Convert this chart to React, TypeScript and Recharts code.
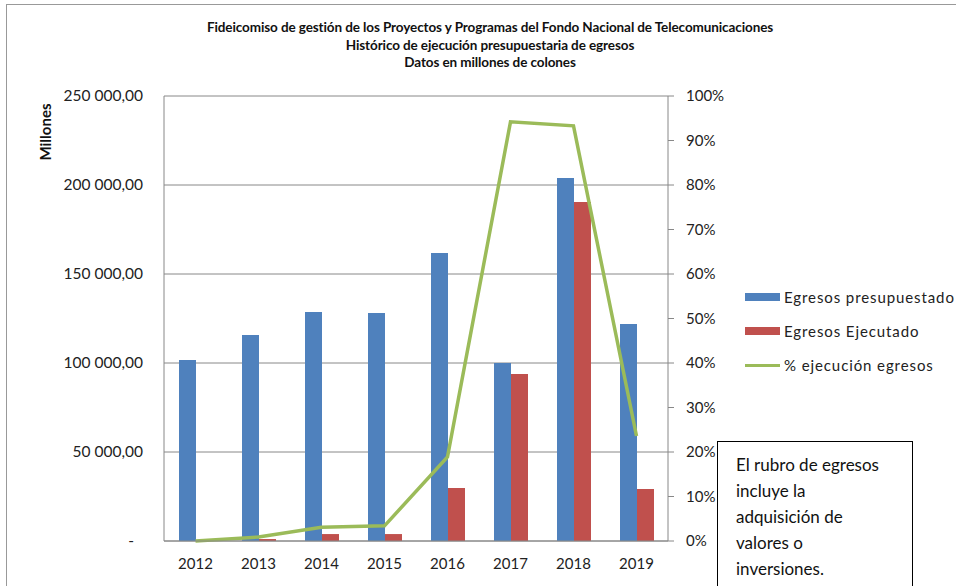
import { ComposedChart, Bar, Line, XAxis, YAxis, CartesianGrid, Legend } from 'recharts'

const years = ['2012', '2013', '2014', '2015', '2016', '2017', '2018', '2019']
const presupuestado = [101700, 115700, 128700, 128100, 161800, 100000, 203900, 121900]
const ejecutado = [0, 1100, 3900, 3900, 29800, 93800, 190400, 29200]
const pctEjecucion = [0, 0.9, 3.1, 3.4, 18.9, 94.2, 93.3, 23.6]

const leftTicks = [0, 50000, 100000, 150000, 200000, 250000]
const rightTicks = [0, 10, 20, 30, 40, 50, 60, 70, 80, 90, 100]

const BLUE = '#4F81BD'
const RED = '#C0504D'
const GREEN = '#9BBB59'
const GRID = '#888888'
const FONT = 'Lato, "Open Sans", sans-serif'

const data = years.map((year, i) => ({
  year,
  presupuestado: presupuestado[i],
  ejecutado: ejecutado[i],
  pct: pctEjecucion[i],
}))

function formatMillions(v: number) {
  if (v === 0) return '-'
  const int = String(Math.round(v)).replace(/\B(?=(\d{3})+(?!\d))/g, ' ')
  return `${int},00`
}

function LeftTick(props: any) {
  const { x, y, payload } = props
  const label = formatMillions(payload.value)
  return (
    <text
      x={payload.value === 0 ? x - 9 : x}
      y={y}
      dy={5}
      textAnchor="end"
      fontFamily={FONT}
      fontSize={15.5}
      fill="#222"
    >
      {label}
    </text>
  )
}

const legendItems = [
  { label: 'Egresos presupuestado', color: BLUE, type: 'bar' },
  { label: 'Egresos Ejecutado', color: RED, type: 'bar' },
  { label: '% ejecución egresos', color: GREEN, type: 'line' },
]

function LegendBox() {
  return (
    <div style={{ fontFamily: FONT, fontSize: 15, color: '#222', letterSpacing: 0.9 }}>
      {legendItems.map((it) => (
        <div key={it.label} style={{ display: 'flex', alignItems: 'center', height: 34 }}>
          <span
            style={{
              display: 'inline-block',
              width: 35,
              height: it.type === 'bar' ? 8 : 3,
              background: it.color,
              marginRight: 4,
            }}
          />
          <span style={{ whiteSpace: 'nowrap' }}>{it.label}</span>
        </div>
      ))}
    </div>
  )
}

export default function App() {
  return (
    <div
      style={{
        position: 'fixed',
        left: 0,
        top: 0,
        width: 956,
        height: 586,
        background: '#fff',
        overflow: 'hidden',
      }}
    >
      <div
        style={{
          position: 'absolute',
          left: 6,
          top: 4,
          right: -2,
          bottom: -2,
          borderLeft: '1.5px solid #999',
          borderTop: '1.5px solid #999',
        }}
      />
      <div
        style={{
          position: 'absolute',
          left: 0,
          width: 980,
          top: 19,
          textAlign: 'center',
          fontFamily: FONT,
          fontWeight: 700,
          fontSize: 13.5,
          letterSpacing: -0.1,
          lineHeight: '17.5px',
          color: '#111',
        }}
      >
        <div>Fideicomiso de gestión de los Proyectos y Programas del Fondo Nacional de Telecomunicaciones</div>
        <div>Histórico de ejecución presupuestaria de egresos</div>
        <div>Datos en millones de colones</div>
      </div>
      <div
        style={{
          position: 'absolute',
          left: 45,
          top: 132,
          transform: 'translate(-50%, -50%) rotate(-90deg)',
          fontFamily: FONT,
          fontWeight: 700,
          fontSize: 15,
          color: '#111',
        }}
      >
        Millones
      </div>
      <div style={{ position: 'absolute', left: 0, top: 0 }}>
        <ComposedChart
          width={956}
          height={586}
          data={data}
          margin={{ top: 96, right: 228, bottom: 15, left: 20 }}
          barGap={0}
        >
          <CartesianGrid yAxisId="left" vertical={false} stroke={GRID} strokeWidth={1} />
          <XAxis
            dataKey="year"
            height={30}
            tickLine={false}
            tickSize={0}
            tickMargin={17}
            stroke={GRID}
            tick={{ fontFamily: FONT, fontSize: 15, fill: '#222' }}
          />
          <YAxis
            yAxisId="left"
            orientation="left"
            width={144}
            domain={[0, 250000]}
            ticks={leftTicks}
            interval={0}
            tickLine={false}
            tickSize={0}
            tickMargin={21}
            stroke={GRID}
            tick={<LeftTick />}
          />
          <YAxis
            yAxisId="right"
            orientation="right"
            width={60}
            domain={[0, 100]}
            ticks={rightTicks}
            interval={0}
            tickSize={6}
            tickMargin={12}
            stroke={GRID}
            tickFormatter={(v: number) => `${v}%`}
            tick={{ fontFamily: FONT, fontSize: 15, fill: '#222', textAnchor: 'start' }}
          />
          <Bar
            yAxisId="left"
            dataKey="presupuestado"
            name="Egresos presupuestado"
            fill={BLUE}
            barSize={17}
            isAnimationActive={false}
          />
          <Bar
            yAxisId="left"
            dataKey="ejecutado"
            name="Egresos Ejecutado"
            fill={RED}
            barSize={17}
            isAnimationActive={false}
          />
          <Line
            yAxisId="right"
            dataKey="pct"
            name="% ejecución egresos"
            stroke={GREEN}
            strokeWidth={3.5}
            dot={false}
            activeDot={false}
            type="linear"
            isAnimationActive={false}
          />
          <Legend
            layout="vertical"
            align="center"
            verticalAlign="middle"
            wrapperStyle={{ position: 'absolute', left: 745, top: 280, width: 'auto' }}
            content={() => <LegendBox />}
          />
        </ComposedChart>
      </div>
      <div
        style={{
          position: 'absolute',
          left: 717,
          top: 441,
          width: 196,
          height: 160,
          border: '1.5px solid #000',
          background: '#fff',
          boxSizing: 'border-box',
          padding: '10px 0 0 18px',
          fontFamily: FONT,
          fontSize: 17,
          lineHeight: '26px',
          color: '#111',
        }}
      >
        El rubro de egresos
        <br />
        incluye la
        <br />
        adquisición de
        <br />
        valores o
        <br />
        inversiones.
      </div>
    </div>
  )
}
